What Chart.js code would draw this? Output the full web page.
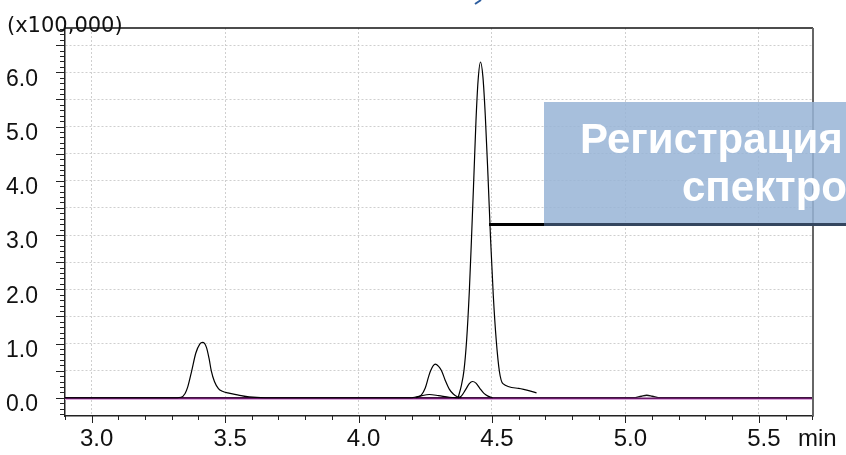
<!DOCTYPE html>
<html>
<head>
<meta charset="utf-8">
<script src="https://cdn.jsdelivr.net/npm/chart.js@4"></script>
<style>
  html, body { margin: 0; padding: 0; background: #fff; }
  canvas { display: block; }
</style>
</head>
<body>
<canvas id="chromChart" width="846" height="455"></canvas>
<script>
// retention time (min) and intensity (x100,000)
const peakA_time = [2.90, 3.30, 3.335, 3.35, 3.36, 3.375, 3.39, 3.405, 3.416, 3.43, 3.44, 3.448, 3.46, 3.475, 3.49, 3.51, 3.55, 3.59, 3.65, 4.20];
const peakA_int  = [0.00, 0.00, 0.01, 0.08, 0.20, 0.50, 0.82, 0.99, 1.02, 0.93, 0.72, 0.50, 0.30, 0.17, 0.12, 0.09, 0.05, 0.015, 0.00, 0.00];

const peakB_time = [4.215, 4.235, 4.25, 4.262, 4.270, 4.287, 4.30, 4.311, 4.325, 4.34, 4.355, 4.37, 4.385];
const peakB_int  = [0.00, 0.05, 0.18, 0.38, 0.50, 0.62, 0.58, 0.50, 0.32, 0.16, 0.07, 0.02, 0.00];

const peakC_time = [4.20, 4.23, 4.265, 4.30, 4.34, 4.38];
const peakC_int  = [0.00, 0.03, 0.06, 0.04, 0.01, 0.00];

const peakD_time = [4.373, 4.385, 4.40, 4.415, 4.427, 4.44, 4.455, 4.47, 4.485, 4.502];
const peakD_int  = [0.00, 0.03, 0.14, 0.26, 0.30, 0.27, 0.17, 0.08, 0.03, 0.00];

const peakE_time = [4.373, 4.385, 4.395, 4.405, 4.415, 4.423, 4.432, 4.44, 4.448, 4.457, 4.466, 4.475, 4.485, 4.495, 4.505, 4.516, 4.528, 4.541, 4.60, 4.667];
const peakE_int  = [0.00, 0.22, 0.50, 1.06, 1.95, 2.90, 4.05, 5.10, 5.85, 6.19, 5.92, 5.20, 4.10, 2.90, 1.88, 1.06, 0.48, 0.26, 0.175, 0.09];

const baseline_time = [2.90, 5.03, 5.06, 5.08, 5.10, 5.13, 5.703];
const baseline_int  = [0.00, 0.00, 0.03, 0.045, 0.03, 0.00, 0.00];

const purple_time = [2.90, 5.703];
const purple_int  = [-0.008, -0.008];
const pink_time = [2.90, 5.703];
const pink_int  = [-0.03, -0.03];

const xTickLabels = ['3.0', '3.5', '4.0', '4.5', '5.0', '5.5'];
const yTickLabels = ['0.0', '1.0', '2.0', '3.0', '4.0', '5.0', '6.0'];
const yUnitLabel = '(x100,000)';
const xUnitLabel = 'min';
const overlayLines = ['Регистрация', 'спектро'];

function toPoints(times, values) {
    return times.map((t, i) => ({ x: t, y: values[i] }));
}

function isMajor(v) {
    return Math.abs(v * 2 - Math.round(v * 2)) < 1e-6;
}

function trace(times, values, color, width, order) {
    return {
        data: toPoints(times, values),
        borderColor: color,
        borderWidth: width,
        pointRadius: 0,
        fill: false,
        cubicInterpolationMode: 'monotone',
        order: order
    };
}

// ticks, frame, unit labels and the overlay box
const decorations = {
    id: 'decorations',
    afterDraw(chart) {
        const { ctx, chartArea: a, scales: { x, y } } = chart;
        ctx.save();

        // frame: top and right
        ctx.strokeStyle = '#111';
        ctx.lineWidth = 1.5;
        ctx.beginPath();
        ctx.moveTo(a.left, a.top);
        ctx.lineTo(a.right, a.top);
        ctx.stroke();
        ctx.strokeStyle = '#666';
        ctx.lineWidth = 2;
        ctx.beginPath();
        ctx.moveTo(a.right, a.top);
        ctx.lineTo(a.right, a.bottom);
        ctx.stroke();

        // tick marks
        ctx.strokeStyle = '#222';
        ctx.lineWidth = 1;
        x.ticks.forEach(t => {
            const px = Math.round(x.getPixelForValue(t.value)) + 0.5;
            const len = isMajor(t.value) ? 7 : 4;
            ctx.beginPath();
            ctx.moveTo(px, a.bottom);
            ctx.lineTo(px, a.bottom + len);
            ctx.stroke();
        });
        y.ticks.forEach(t => {
            const py = Math.round(y.getPixelForValue(t.value)) + 0.5;
            const len = isMajor(t.value) ? 9 : 5;
            ctx.beginPath();
            ctx.moveTo(a.left - len, py);
            ctx.lineTo(a.left, py);
            ctx.stroke();
        });

        // unit labels
        ctx.fillStyle = '#111';
        ctx.textBaseline = 'alphabetic';
        ctx.font = '21px "DejaVu Sans"';
        ctx.fillText(yUnitLabel, 7, 32);
        ctx.font = '24px "Liberation Sans"';
        ctx.fillText(xUnitLabel, 798, 446);

        // small blue arrow tip at the top
        ctx.strokeStyle = '#2d5d9f';
        ctx.lineWidth = 2;
        ctx.beginPath();
        ctx.moveTo(475, 4);
        ctx.lineTo(481, 0);
        ctx.stroke();

        // leader line and overlay box
        ctx.strokeStyle = '#000';
        ctx.lineWidth = 3;
        ctx.beginPath();
        ctx.moveTo(489, 224.5);
        ctx.lineTo(545, 224.5);
        ctx.stroke();

        ctx.fillStyle = 'rgba(152, 180, 214, 0.85)';
        ctx.fillRect(544, 102, 302, 122);
        ctx.strokeStyle = '#34465f';
        ctx.lineWidth = 3;
        ctx.beginPath();
        ctx.moveTo(544, 224.5);
        ctx.lineTo(846, 224.5);
        ctx.stroke();

        ctx.fillStyle = '#fff';
        ctx.font = 'bold 42px "Liberation Sans"';
        ctx.fillText(overlayLines[0], 580, 153);
        ctx.fillText(overlayLines[1], 682, 201);

        ctx.restore();
    }
};

const ctx = document.getElementById('chromChart').getContext('2d');

new Chart(ctx, {
    type: 'line',
    data: {
        datasets: [
            trace(peakE_time, peakE_int, '#000', 1.2, 1),
            trace(peakA_time, peakA_int, '#000', 1.2, 2),
            trace(peakB_time, peakB_int, '#000', 1.2, 3),
            trace(peakD_time, peakD_int, '#000', 1.2, 4),
            trace(peakC_time, peakC_int, '#000', 1.2, 5),
            trace(pink_time, pink_int, '#dba6db', 1.2, 8),
            trace(baseline_time, baseline_int, '#111', 1.5, 7),
            trace(purple_time, purple_int, '#6a1a6a', 1.5, 6)
        ]
    },
    options: {
        responsive: false,
        animation: false,
        layout: { padding: { top: 28, right: 33, left: 0, bottom: 0 } },
        plugins: {
            legend: { display: false },
            tooltip: { enabled: false }
        },
        scales: {
            x: {
                type: 'linear',
                min: 2.9,
                max: 5.703,
                afterBuildTicks: scale => {
                    const ticks = [];
                    for (let i = 29; i <= 57; i++) ticks.push({ value: i / 10 });
                    scale.ticks = ticks;
                },
                afterFit: scale => {
                    scale.height = 39;
                    scale.paddingLeft = 0;
                    scale.paddingRight = 0;
                },
                ticks: {
                    autoSkip: false,
                    maxRotation: 0,
                    padding: 9,
                    labelOffset: 5,
                    color: '#111',
                    font: { family: 'Liberation Sans', size: 24 },
                    callback: value => {
                        const s = Number(value).toFixed(1);
                        return xTickLabels.includes(s) && isMajor(value) ? s : '';
                    }
                },
                grid: {
                    drawTicks: false,
                    color: c => (c.tick && isMajor(c.tick.value) && c.tick.value > 2.95) ? '#cfcfcf' : 'rgba(0,0,0,0)',
                    lineWidth: 1
                },
                border: { color: '#222', width: 1.5, dash: [2, 2] }
            },
            y: {
                type: 'linear',
                min: -0.336,
                max: 6.817,
                afterBuildTicks: scale => {
                    const ticks = [];
                    for (let i = -3; i <= 68; i++) ticks.push({ value: i / 10 });
                    scale.ticks = ticks;
                },
                afterFit: scale => {
                    scale.width = 65;
                    scale.paddingTop = 0;
                    scale.paddingBottom = 0;
                },
                ticks: {
                    autoSkip: false,
                    padding: 27,
                    labelOffset: 7,
                    color: '#111',
                    font: { family: 'Liberation Sans', size: 23 },
                    callback: value => {
                        const s = Number(value).toFixed(1);
                        return yTickLabels.includes(s) && Math.abs(value - Math.round(value)) < 1e-6 ? s : '';
                    }
                },
                grid: {
                    drawTicks: false,
                    color: c => (c.tick && isMajor(c.tick.value) && c.tick.value > 0.2) ? '#cfcfcf' : 'rgba(0,0,0,0)',
                    lineWidth: 1
                },
                border: { color: '#222', width: 1.5, dash: [2, 2] }
            }
        }
    },
    plugins: [decorations]
});
</script>
</body>
</html>
